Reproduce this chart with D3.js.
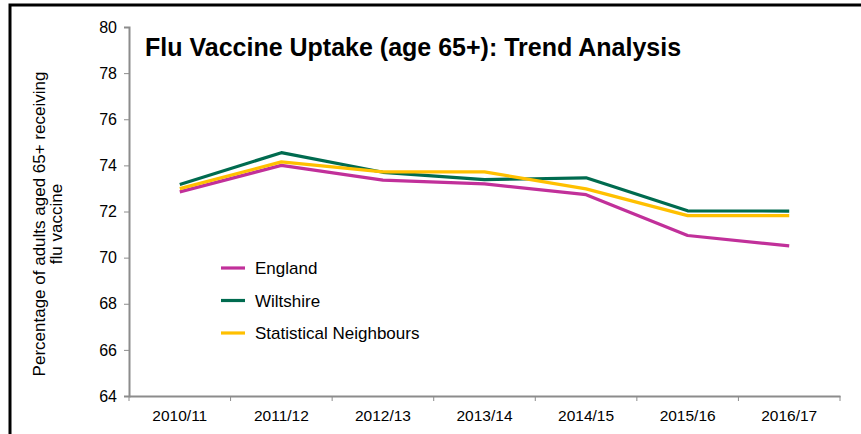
<!DOCTYPE html>
<html>
<head>
<meta charset="utf-8">
<script src="https://cdn.jsdelivr.net/npm/d3@7"></script>
<style>
  html, body { margin: 0; padding: 0; background: #fff; }
  svg { display: block; font-family: "Liberation Sans", Arial, sans-serif; }
</style>
</head>
<body>
<svg id="chart" width="861" height="434"></svg>
<script>
// Flu vaccine uptake, adults aged 65+, by season
const seasons = ["2010/11", "2011/12", "2012/13", "2013/14", "2014/15", "2015/16", "2016/17"];
const england = [72.85, 74.0, 73.36, 73.2, 72.73, 70.96, 70.51];
const wiltshire = [73.17, 74.55, 73.7, 73.38, 73.46, 72.03, 72.02];
const statNeighbours = [72.99, 74.15, 73.72, 73.72, 72.98, 71.82, 71.82];
const seriesNames = ["England", "Wiltshire", "Statistical Neighbours"];
const yTicks = [64, 66, 68, 70, 72, 74, 76, 78, 80];

const colours = ["#c1309a", "#006b4f", "#ffc000"];
const series = [england, wiltshire, statNeighbours].map((values, i) => ({
  name: seriesNames[i], colour: colours[i], values
}));

const FONT = "'Liberation Sans', Arial, sans-serif";
const svg = d3.select("#chart");
const plot = { left: 129, right: 840, top: 27, bottom: 396 };

// outer frame (top and left edges)
svg.append("path")
  .attr("d", `M10,434 L10,5 L861,5`)
  .attr("fill", "none").attr("stroke", "#000").attr("stroke-width", 3);

const x = d3.scaleBand().domain(seasons).range([plot.left, plot.right]);
const y = d3.scaleLinear().domain([64, 80]).range([plot.bottom, plot.top]);

// y axis
const yAxis = svg.append("g")
  .attr("transform", `translate(${plot.left},0)`)
  .call(d3.axisLeft(y).tickValues(yTicks).tickSize(5).tickPadding(7).tickFormat(d3.format("d")));
yAxis.select(".domain").attr("stroke", "#8c8c8c").attr("stroke-width", 2);
yAxis.selectAll(".tick line").attr("stroke", "#8c8c8c").attr("stroke-width", 1);
yAxis.selectAll(".tick text").attr("font-size", 16).attr("fill", "#000")
  .attr("font-family", FONT);

// x axis with ticks on category boundaries
const xAxis = svg.append("g")
  .attr("transform", `translate(0,${plot.bottom})`)
  .call(d3.axisBottom(x).tickSize(0).tickPadding(14));
xAxis.select(".domain").attr("stroke", "#8c8c8c").attr("stroke-width", 2);
xAxis.selectAll(".tick text").attr("font-size", 15.5).attr("fill", "#000")
  .attr("font-family", FONT);
const boundaries = seasons.map(s => x(s)).concat([x.range()[1]]);
xAxis.selectAll(".bound").data(boundaries).join("line")
  .attr("class", "bound")
  .attr("x1", d => d).attr("x2", d => d)
  .attr("y1", 0).attr("y2", 5)
  .attr("stroke", "#8c8c8c").attr("stroke-width", 1);

// y axis title
const yTitle = svg.append("text")
  .attr("transform", `translate(45,224) rotate(-90)`)
  .attr("text-anchor", "middle")
  .attr("font-size", 17).attr("fill", "#000");
yTitle.append("tspan").attr("x", 0).attr("dy", 0).text("Percentage of adults aged 65+ receiving");
yTitle.append("tspan").attr("x", 0).attr("dy", 17).text("flu vaccine");

// chart title
svg.append("text")
  .attr("x", 145).attr("y", 56)
  .attr("font-size", 25).attr("font-weight", "bold").attr("fill", "#000")
  .text("Flu Vaccine Uptake (age 65+): Trend Analysis");

// series lines
const line = d3.line()
  .x((d, i) => x(seasons[i]) + x.bandwidth() / 2)
  .y(d => y(d));

svg.append("g").selectAll("path").data(series).join("path")
  .attr("d", d => line(d.values))
  .attr("fill", "none")
  .attr("stroke", d => d.colour)
  .attr("stroke-width", 3.2)
  .attr("stroke-linejoin", "round");

// legend
const legend = svg.append("g").attr("transform", "translate(221,268)");
const items = legend.selectAll("g").data(series).join("g")
  .attr("transform", (d, i) => `translate(0,${i * 32.5})`);
items.append("line")
  .attr("x1", 0).attr("x2", 24).attr("y1", 0).attr("y2", 0)
  .attr("stroke", d => d.colour).attr("stroke-width", 3.2);
items.append("text")
  .attr("x", 34).attr("y", 6)
  .attr("font-size", 17).attr("fill", "#000")
  .text(d => d.name);
</script>
</body>
</html>
